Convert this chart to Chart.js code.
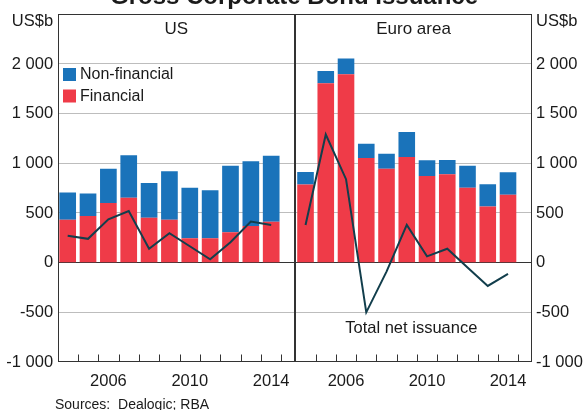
<!DOCTYPE html>
<html><head><meta charset="utf-8">
<script src="https://cdn.jsdelivr.net/npm/chart.js@4"></script>
<style>
html,body{margin:0;padding:0;background:#fff;}
#wrap{position:relative;width:585px;height:410px;overflow:hidden;background:#fff;}
#wrap canvas{position:absolute;top:0;}
</style></head><body>
<div id="wrap">
<canvas id="cA" width="585" height="410" style="left:0;width:585px;height:410px"></canvas>
<canvas id="cB" width="295" height="410" style="left:290px;width:295px;height:410px"></canvas>
</div>
<script>
// ---- data (US$b) ----
const years = [2004,2005,2006,2007,2008,2009,2010,2011,2012,2013,2014];
const usFinancial      = [433,470,600,653,453,433,246,246,306,370,413];
const usNonFinancial   = [273,226,346,427,350,487,507,484,670,650,663];
const usNet            = [270,240,436,520,140,296,165,33,206,413,380];
const euroFinancial    = [786,1806,1896,1053,946,1063,873,890,753,566,683];
const euroNonFinancial = [127,124,160,143,150,253,157,143,223,224,227];
const euroNet          = [380,1290,840,-500,-90,380,63,140,-49,-234,-114];
const yTickValues = [-1000,-500,0,500,1000,1500,2000,2500];
const xLabelYears = [2006,2010,2014];

const BLUE = '#1a73ba', RED = '#ef3b48', LINE = '#123e4c', TXT = '#1a1a1a', FRAME = '#333333', GRID = '#bdbdbd';
const FONT = '"Liberation Sans", Arial, sans-serif';
Chart.defaults.font.family = FONT;
Chart.defaults.color = TXT;

function fmt(v){
  const a = Math.abs(v), s = v < 0 ? '-' : '';
  if (a >= 1000){ const r = String(a % 1000).padStart(3,'0'); return s + Math.floor(a/1000) + ' ' + r; }
  return s + a;
}
function pts(vals){ return years.map((x,i)=>({x:x, y:vals[i]})); }

function makeDatasets(fin, nonfin, net){
  return [
    {type:'line', label:'Total net issuance', data:pts(net), borderColor:LINE, borderWidth:2, pointRadius:0, tension:0, stack:'net', fill:false},
    {type:'bar', label:'Financial', data:pts(fin), backgroundColor:RED, stack:'iss', borderWidth:0},
    {type:'bar', label:'Non-financial', data:pts(nonfin), backgroundColor:BLUE, stack:'iss', borderWidth:0}
  ];
}

function scales(side, yWidth){
  return {
    x:{type:'linear', min:2003.5, max:2015.17, stacked:true, offset:false,
       afterBuildTicks:s=>{ s.ticks = years.map(v=>({value:v})); },
       ticks:{autoSkip:false, maxRotation:0, padding:10, font:{size:16.5}, color:TXT,
              callback:v=> xLabelYears.includes(v) ? String(v) : ''},
       grid:{display:false, drawTicks:false, offset:false}, border:{display:false},
       afterFit:s=>{ s.height = 48; }},
    y:{type:'linear', position:side, min:-1000, max:2500, stacked:true,
       afterBuildTicks:s=>{ s.ticks = yTickValues.map(v=>({value:v})); },
       ticks:{padding:4.4, font:{size:16.5}, color:TXT, callback:v=> v===2500 ? '' : fmt(v)},
       grid:{drawTicks:false, lineWidth:1,
             color:c=>{ const v=c.tick && c.tick.value; if (v===0) return FRAME; if (v===-1000||v===2500) return 'rgba(0,0,0,0)'; return GRID; }},
       border:{display:false},
       afterFit:s=>{ s.width = yWidth; }}
  };
}

function framePlugin(id){
  return {id:id, afterDatasetsDraw(chart){
    const a = chart.chartArea, ctx = chart.ctx, xs = chart.scales.x;
    ctx.save();
    ctx.strokeStyle = FRAME; ctx.lineWidth = 1;
    const l = Math.round(a.left)+0.5, r = Math.round(a.right)-0.5, t = Math.round(a.top)+0.5, b = Math.round(a.bottom)-0.5;
    ctx.strokeRect(l, t, r-l, b-t);
    ctx.beginPath();
    years.forEach(y=>{ const px = Math.round(xs.getPixelForValue(y+0.5))+0.5; ctx.moveTo(px, b); ctx.lineTo(px, b-7); });
    ctx.stroke();
    ctx.restore();
  }};
}

const decorA = {id:'decorA', afterDraw(chart){
  const ctx = chart.ctx, a = chart.chartArea;
  ctx.save();
  ctx.fillStyle = TXT;
  ctx.font = 'bold 24px ' + FONT; ctx.textAlign = 'center'; ctx.textBaseline = 'alphabetic';
  ctx.fillText('Gross Corporate Bond Issuance', 294, 3.5);
  ctx.font = '17px ' + FONT; ctx.textBaseline = 'middle';
  ctx.fillText('US', (a.left+a.right)/2, 29.5);
  ctx.font = '16.5px ' + FONT; ctx.textAlign = 'right';
  ctx.fillText('US$b', a.left-4.4, 21);
  // legend
  ctx.textAlign = 'left';
  ctx.fillStyle = BLUE; ctx.fillRect(63, 68, 13, 13);
  ctx.fillStyle = RED;  ctx.fillRect(63, 89.5, 13, 13);
  ctx.fillStyle = TXT;
  ctx.font = '16px ' + FONT;
  ctx.fillText('Non-financial', 80, 75);
  ctx.fillText('Financial', 80, 96.5);
  ctx.font = '14px ' + FONT; ctx.textBaseline = 'alphabetic';
  ctx.fillText('Sources:  Dealogic; RBA', 55, 409.3);
  ctx.restore();
}};

const decorB = {id:'decorB', afterDraw(chart){
  const ctx = chart.ctx, a = chart.chartArea;
  ctx.save();
  ctx.fillStyle = TXT; ctx.textBaseline = 'middle'; ctx.textAlign = 'center';
  ctx.font = '17px ' + FONT;
  ctx.fillText('Euro area', (a.left+a.right)/2, 29.5);
  ctx.font = '16.5px ' + FONT;
  ctx.fillText('Total net issuance', 121.3, 328.5);
  ctx.textAlign = 'left';
  ctx.fillText('US$b', a.right+4.4, 21);
  ctx.restore();
}};

const common = {responsive:false, animation:false, devicePixelRatio:1,
  datasets:{bar:{categoryPercentage:1, barPercentage:0.82}},
  plugins:{legend:{display:false}, tooltip:{enabled:false}, title:{display:false}}};

new Chart(document.getElementById('cA'), {
  type:'bar',
  data:{datasets:makeDatasets(usFinancial, usNonFinancial, usNet)},
  options:Object.assign({}, common, {layout:{padding:{left:0, right:290, top:12, bottom:0}}, scales:scales('left', 57.5)}),
  plugins:[framePlugin('frameA'), decorA]
});
new Chart(document.getElementById('cB'), {
  type:'bar',
  data:{datasets:makeDatasets(euroFinancial, euroNonFinancial, euroNet)},
  options:Object.assign({}, common, {layout:{padding:{left:5.4, right:0, top:12, bottom:0}}, scales:scales('right', 53.3)}),
  plugins:[framePlugin('frameB'), decorB]
});
</script>
</body></html>
